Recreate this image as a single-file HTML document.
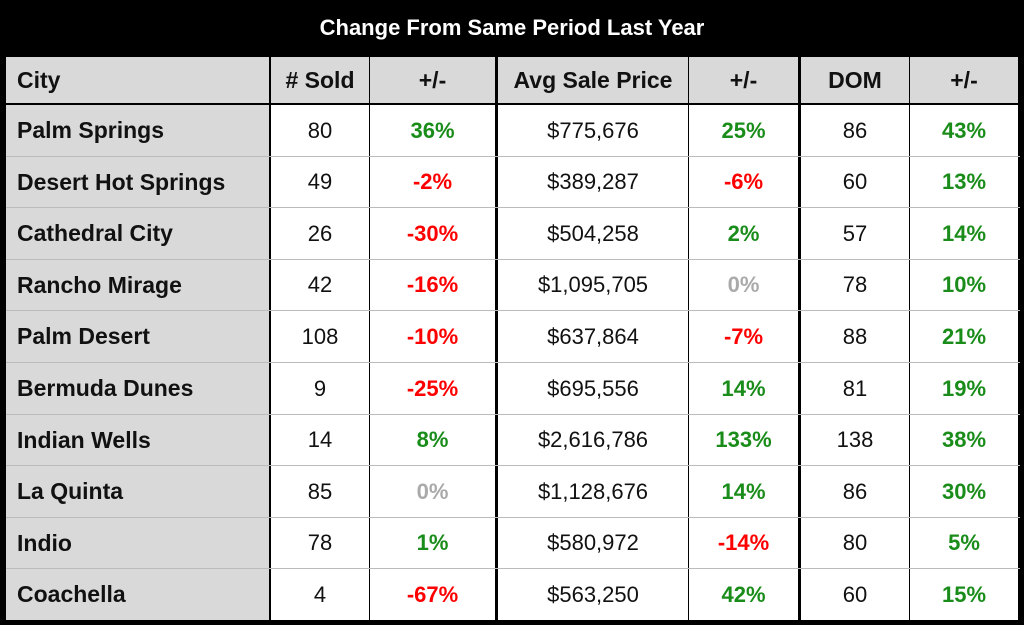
<!DOCTYPE html>
<html><head><meta charset="utf-8"><style>
body{margin:0;width:1024px;height:625px;background:#000;position:relative;overflow:hidden;font-family:"Liberation Sans",sans-serif}
.title{position:absolute;left:0;top:15px;width:1024px;text-align:center;color:#fff;font-weight:bold;font-size:22px}
.c{position:absolute;box-sizing:border-box;display:flex;align-items:center;justify-content:center;font-size:22px;color:#111}
.h{background:#d9d9d9;font-weight:bold;font-size:23px}
.city{background:#d9d9d9;font-weight:bold;justify-content:flex-start;padding-left:11px;font-size:23px}
.d{background:#fff}
.g{color:#1a8c1a;font-weight:bold}.r{color:#f00;font-weight:bold}.z{color:#aaa;font-weight:bold}
</style></head><body>
<div class="title">Change From Same Period Last Year</div>
<div id="t"></div>
<script>
const headers=["City","# Sold","+/-","Avg Sale Price","+/-","DOM","+/-"];
const cities=["Palm Springs","Desert Hot Springs","Cathedral City","Rancho Mirage","Palm Desert","Bermuda Dunes","Indian Wells","La Quinta","Indio","Coachella"];
const sold=["80","49","26","42","108","9","14","85","78","4"];
const soldChg=[36,-2,-30,-16,-10,-25,8,0,1,-67];
const price=["$775,676","$389,287","$504,258","$1,095,705","$637,864","$695,556","$2,616,786","$1,128,676","$580,972","$563,250"];
const priceChg=[25,-6,2,0,-7,14,133,14,-14,42];
const dom=["86","60","57","78","88","81","138","86","80","60"];
const domChg=[43,13,14,10,21,19,38,30,5,15];
const xs=[4,269,369,495,688,798,909,1020];
const t=document.getElementById('t');
function cell(x0,x1,y,h,txt,cls,name){
  const d=document.createElement('div');
  d.className='c '+cls;
  d.style.left=x0+'px';d.style.top=y+'px';d.style.width=(x1-x0)+'px';d.style.height=h+'px';
  d.textContent=txt;
  
  
  t.appendChild(d);
}
function bg(x,y,w,h,c){const d=document.createElement('div');d.style.cssText=`position:absolute;left:${x}px;top:${y}px;width:${w}px;height:${h}px;background:${c}`;


t.appendChild(d);}
const gaps=[0,2,1,3,1,3,1];
for(let i=0;i<7;i++){cell(xs[i]+(i==0?2:gaps[i]),xs[i+1]-(i==6?2:0),57,46,headers[i],'h'+(i==0?' city':''),'header-'+i);}
function pc(v){return v>0?'g':v<0?'r':'z';}
const rh=51.6;
for(let r=0;r<cities.length;r++){
  const y=Math.round(105+r*rh), h=Math.round(105+(r+1)*rh)-y-1;
  const vals=[cities[r],sold[r],soldChg[r]+'%',price[r],priceChg[r]+'%',dom[r],domChg[r]+'%'];
  const cls=['city','d','d '+pc(soldChg[r]),'d','d '+pc(priceChg[r]),'d','d '+pc(domChg[r])];
  for(let i=0;i<7;i++){cell(xs[i]+(i==0?2:gaps[i]),xs[i+1]-(i==6?2:0),y,h,vals[i],cls[i],'row-'+r+'-col-'+i);}
  if(r<cities.length-1)bg(xs[0]+2,y+h,1014,1,'#bbb');
}
</script>
</body></html>
